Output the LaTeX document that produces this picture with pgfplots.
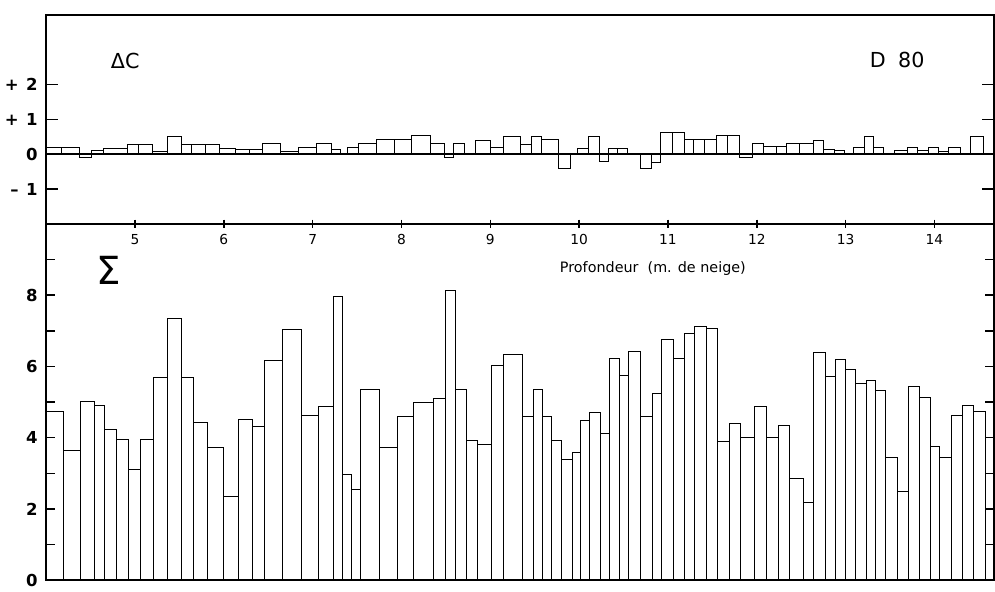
\documentclass[border=0pt]{standalone}
\usepackage{fontspec}
\setmainfont{DejaVu Sans}
\usepackage{pgfplots}
\pgfplotsset{compat=1.18}
\usepackage{pgfplotstable}

% Delta C : left edge of each depth interval (m), value
\pgfplotstableread{
x y
4.00 0.19
4.17 0.20
4.37 -0.10
4.51 0.10
4.64 0.17
4.92 0.27
5.04 0.27
5.20 0.07
5.36 0.50
5.52 0.29
5.64 0.29
5.79 0.29
5.95 0.17
6.13 0.15
6.29 0.15
6.44 0.30
6.64 0.07
6.84 0.19
7.04 0.31
7.21 0.13
7.31 0.00
7.39 0.19
7.51 0.32
7.72 0.42
7.92 0.42
8.11 0.53
8.33 0.32
8.48 -0.10
8.59 0.32
8.71 0.00
8.83 0.39
9.00 0.19
9.15 0.50
9.34 0.29
9.46 0.50
9.57 0.42
9.77 -0.41
9.90 0.00
9.98 0.17
10.10 0.51
10.23 -0.21
10.33 0.17
10.43 0.17
10.54 0.00
10.69 -0.42
10.81 -0.22
10.92 0.63
11.05 0.63
11.18 0.42
11.29 0.42
11.41 0.42
11.54 0.53
11.67 0.53
11.80 -0.09
11.95 0.32
12.08 0.24
12.22 0.22
12.33 0.32
12.48 0.32
12.64 0.40
12.75 0.13
12.87 0.10
12.99 0.00
13.09 0.20
13.21 0.51
13.31 0.20
13.43 0.00
13.55 0.10
13.70 0.20
13.81 0.10
13.93 0.20
14.04 0.08
14.16 0.19
14.29 0.00
14.40 0.51
14.55 0.00
14.67 0
}\dataC

% Sigma : left edge of each depth interval (m), value
\pgfplotstableread{
x y
4.00 4.73
4.19 3.65
4.39 5.03
4.54 4.92
4.66 4.23
4.79 3.95
4.93 3.10
5.06 3.95
5.21 5.68
5.37 7.34
5.52 5.68
5.66 4.43
5.82 3.73
5.99 2.35
6.17 4.52
6.32 4.32
6.46 6.16
6.66 7.04
6.87 4.62
7.07 4.89
7.23 7.96
7.33 2.98
7.44 2.55
7.54 5.36
7.75 3.73
7.95 4.59
8.14 5.00
8.36 5.09
8.49 8.12
8.61 5.36
8.73 3.93
8.86 3.80
9.01 6.03
9.15 6.33
9.36 4.59
9.49 5.36
9.59 4.59
9.69 3.92
9.80 3.40
9.92 3.60
10.01 4.48
10.12 4.71
10.24 4.12
10.34 6.23
10.45 5.75
10.55 6.42
10.69 4.59
10.83 5.25
10.93 6.76
11.06 6.23
11.19 6.93
11.30 7.13
11.43 7.06
11.56 3.90
11.69 4.39
11.82 4.00
11.97 4.89
12.11 4.00
12.24 4.36
12.37 2.85
12.52 2.20
12.64 6.40
12.77 5.73
12.89 6.19
13.00 5.91
13.11 5.53
13.23 5.62
13.34 5.32
13.45 3.45
13.58 2.50
13.71 5.43
13.83 5.12
13.95 3.75
14.06 3.45
14.19 4.64
14.31 4.91
14.44 4.73
14.57 0
}\dataS

\begin{document}
\begin{tikzpicture}
\pgfplotsset{
  every axis/.append style={
    scale only axis,
    width=660.8pt,
    xmin=4, xmax=14.67,
    axis on top,
    axis line style={line width=1.4pt},
    tick style={black, line width=1pt},
    xticklabel style={font=\fontsize{9.6}{11}\selectfont},
    yticklabel style={font=\fontsize{11.5}{13}\selectfont\bfseries, xshift=-2.5pt},
    /pgf/number format/assume math mode=true,
  },
}
\begin{axis}[
  name=top,
  height=145.6pt,
  ymin=-2, ymax=4,
  xtick=\empty,
  ytick={-1,0,1,2},
  yticklabels={{–\hspace{0.45em}1},{0},{+\hspace{0.45em}1},{+\hspace{0.45em}2}},
  major tick length=8.4pt,
]
\addplot[ybar interval, fill=white, draw=black, line width=0.6pt] table {\dataC};
\addplot[black, line width=1.3pt] coordinates {(4,0) (14.67,0)};
\node at (axis cs:4.89,2.68) {\fontsize{14.4}{17}\selectfont ΔC};
\node at (axis cs:13.58,2.71) {\fontsize{14.4}{17}\selectfont D\hspace{0.6em}80};
\end{axis}

\begin{axis}[
  at={(top.south west)}, anchor=north west,
  height=248.5pt,
  ymin=0, ymax=10,
  ytick={0,2,...,8},
  minor ytick={1,3,...,9},
  major tick length=6pt,
  minor tick length=6pt,
  xtick={5,...,14},
  xtick pos=upper,
  xticklabel pos=upper,
  xtick align=center,
  xticklabel style={anchor=north, yshift=-7pt},
]
\addplot[ybar interval, fill=white, draw=black, line width=0.6pt] table {\dataS};
\node at (axis cs:4.71,8.70) {\fontsize{27}{30}\selectfont Σ};
\node at (axis cs:10.83,8.76) {\fontsize{10}{12}\selectfont Profondeur\ \ (m. de neige)};
\end{axis}
\path (top.north west) ++(0,10.5pt);
\end{tikzpicture}
\end{document}
